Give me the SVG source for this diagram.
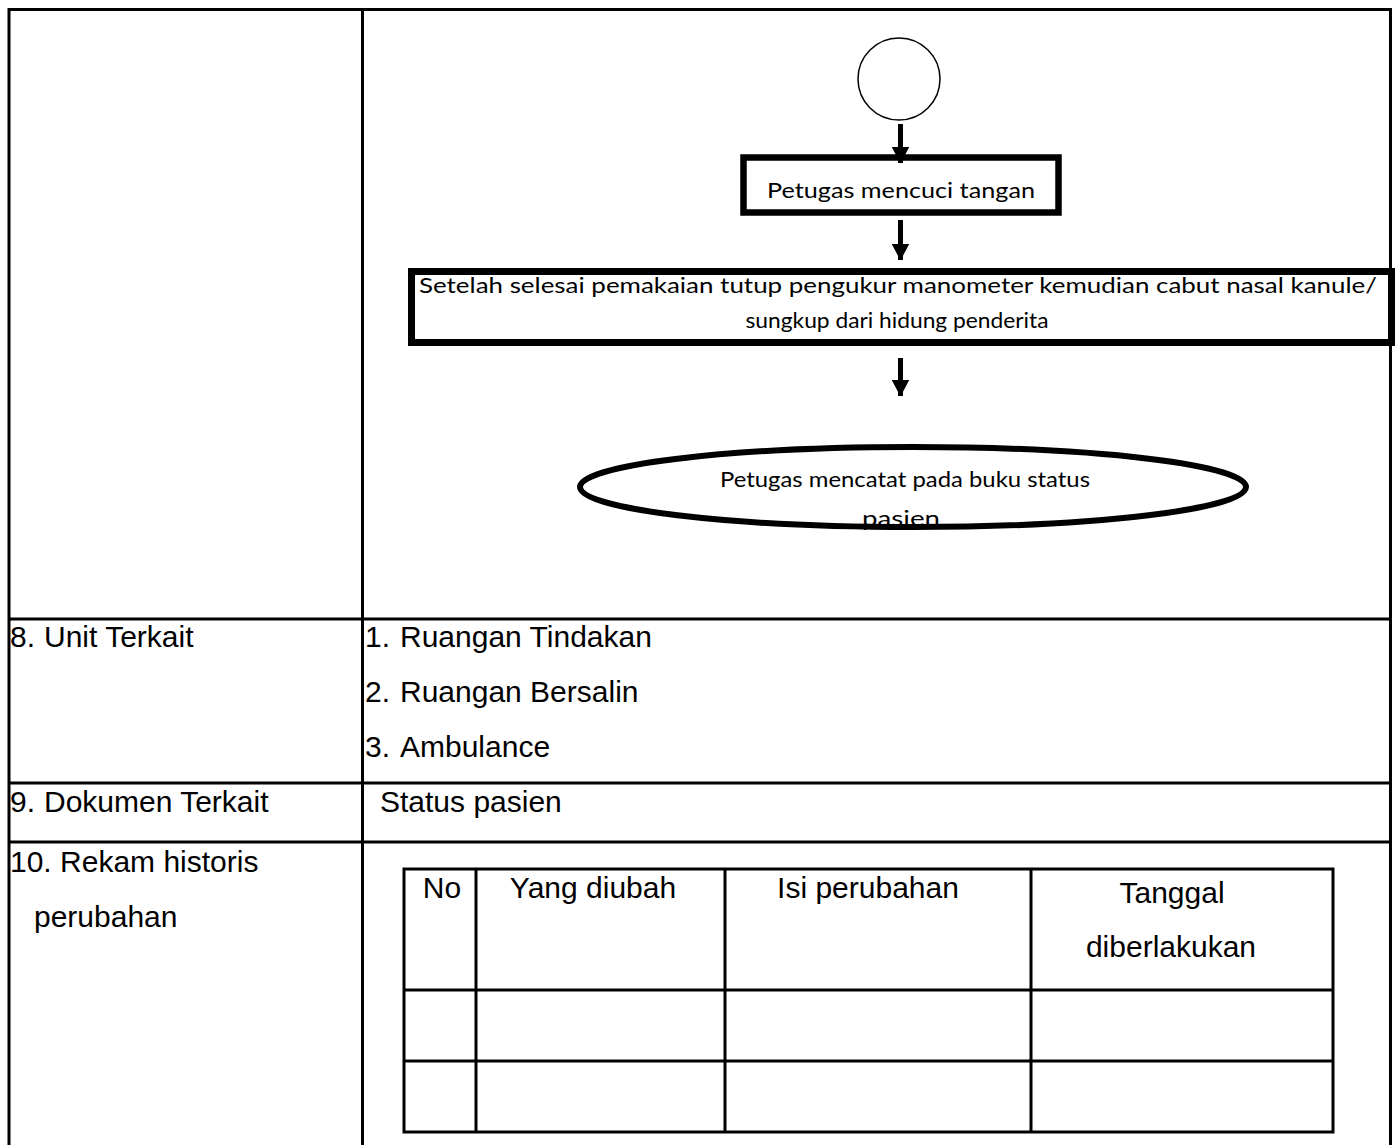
<svg xmlns="http://www.w3.org/2000/svg" width="1400" height="1145" viewBox="0 0 1400 1145">
<style>
.grid{stroke:#000;stroke-width:3;fill:none}
.box{stroke:#000;fill:#fff}
.t{font-family:"Liberation Sans",Arial,sans-serif;font-size:30px;fill:#000}
.f{font-family:Lato,"Open Sans",sans-serif;font-size:22px;fill:#000}
.sh{stroke:#000;stroke-width:5;fill:none}
</style>
<defs>
<marker id="ah" markerWidth="3.4" markerHeight="3.6" refX="3.3" refY="1.8" orient="auto" markerUnits="strokeWidth">
<path d="M0,0 L3.4,1.8 L0,3.6 z" fill="#000"/>
</marker>
</defs>
<rect width="1400" height="1145" fill="#fff"/>
<g id="table">
<path class="grid" d="M9,1145 V9.5 H1390.5 V1145"/>
<line class="grid" x1="362.5" y1="9.5" x2="362.5" y2="1145"/>
<line class="grid" x1="9" y1="619" x2="1390.5" y2="619"/>
<line class="grid" x1="9" y1="783" x2="1390.5" y2="783"/>
<line class="grid" x1="9" y1="842" x2="1390.5" y2="842"/>
</g>
<g id="labels">
<text class="t" x="10" y="647">8.</text>
<text class="t" x="44" y="647">Unit Terkait</text>
<text class="t" x="365" y="647">1.</text>
<text class="t" x="400" y="647">Ruangan Tindakan</text>
<text class="t" x="365" y="702">2.</text>
<text class="t" x="400" y="702">Ruangan Bersalin</text>
<text class="t" x="365" y="757">3.</text>
<text class="t" x="400" y="757">Ambulance</text>
<text class="t" x="10" y="812">9.</text>
<text class="t" x="44" y="812">Dokumen Terkait</text>
<text class="t" x="380" y="812">Status pasien</text>
<text class="t" x="10" y="872">10. Rekam historis</text>
<text class="t" x="34" y="927">perubahan</text>
</g>
<g id="history-table">
<rect class="grid" x="404" y="869" width="929" height="263"/>
<line class="grid" x1="404" y1="990" x2="1333" y2="990"/>
<line class="grid" x1="404" y1="1061" x2="1333" y2="1061"/>
<line class="grid" x1="476" y1="869" x2="476" y2="1132"/>
<line class="grid" x1="725" y1="869" x2="725" y2="1132"/>
<line class="grid" x1="1031" y1="869" x2="1031" y2="1132"/>
<text class="t" x="442" y="898" text-anchor="middle">No</text>
<text class="t" x="593" y="898" text-anchor="middle">Yang diubah</text>
<text class="t" x="868" y="898" text-anchor="middle">Isi perubahan</text>
<text class="t" x="1172" y="903" text-anchor="middle">Tanggal</text>
<text class="t" x="1171" y="957" text-anchor="middle">diberlakukan</text>
</g>
<g id="start">
<circle cx="899" cy="79" r="41" fill="#fff" stroke="#000" stroke-width="1.5"/>
</g>
<g id="step1">
<rect class="box" x="743.5" y="157.5" width="315" height="55" stroke-width="6.5"/>
<text class="f" x="901" y="198" text-anchor="middle" textLength="268" lengthAdjust="spacingAndGlyphs">Petugas mencuci tangan</text>
</g>
<g id="step2">
<rect class="box" x="411.5" y="271.5" width="980" height="71" stroke-width="7"/>
<text class="f" x="898" y="293" text-anchor="middle" textLength="958" lengthAdjust="spacingAndGlyphs">Setelah selesai pemakaian tutup pengukur manometer kemudian cabut nasal kanule/</text>
<text class="f" x="897" y="328" text-anchor="middle" textLength="303" lengthAdjust="spacingAndGlyphs">sungkup dari hidung penderita</text>
</g>
<g id="end">
<ellipse cx="913" cy="487" rx="333" ry="40" fill="#fff"/>
<text class="f" x="905" y="487" text-anchor="middle" textLength="370" lengthAdjust="spacingAndGlyphs">Petugas mencatat pada buku status</text>
<text class="f" x="901" y="526" text-anchor="middle" textLength="78" lengthAdjust="spacingAndGlyphs">pasien</text>
<ellipse cx="913" cy="487" rx="333" ry="40" fill="none" stroke="#000" stroke-width="6"/>
</g>
<g id="connectors">
<line class="sh" x1="900.5" y1="124" x2="900.5" y2="163" marker-end="url(#ah)"/>
<line class="sh" x1="900.5" y1="220" x2="900.5" y2="260" marker-end="url(#ah)"/>
<line class="sh" x1="900.5" y1="358" x2="900.5" y2="396" marker-end="url(#ah)"/>
</g>
</svg>
